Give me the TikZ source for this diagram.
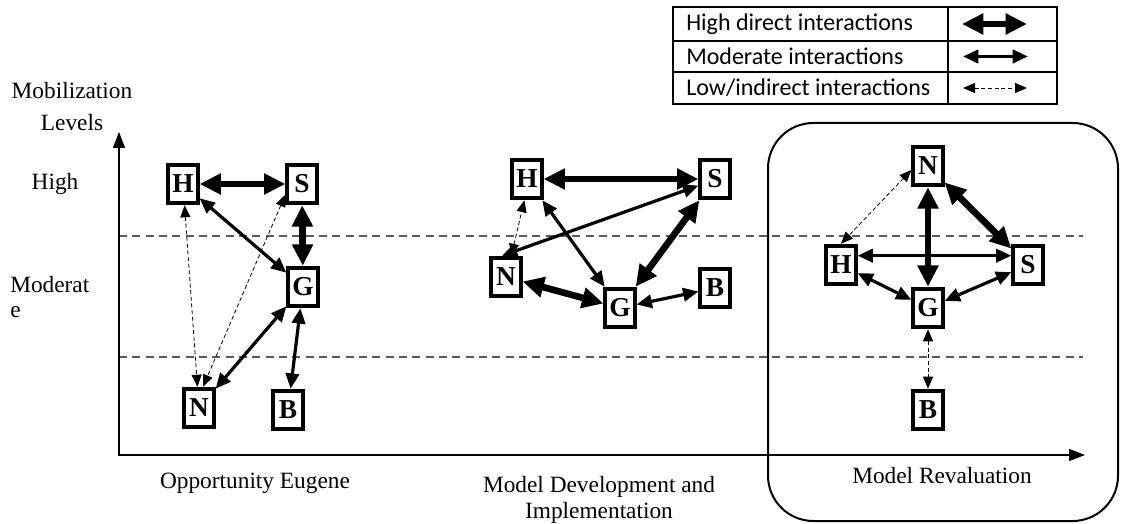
\documentclass[tikz,border=0pt]{standalone}
\usepackage{fontspec}
\setmainfont{Liberation Serif}
\newfontfamily\legendfont{Carlito}
\usetikzlibrary{arrows.meta}

\tikzset{
  actor/.style={draw, fill=white, line width=2.9pt, minimum width=22pt,
    minimum height=29pt, inner sep=0pt,
    font=\fontsize{20.5}{20.5}\selectfont\bfseries},
  high/.style={line width=5pt,
    {Triangle[length=16pt,width=15pt]}-{Triangle[length=16pt,width=15pt]}},
  moderate/.style={line width=2.4pt,
    {Triangle[length=11.5pt,width=10pt]}-{Triangle[length=11.5pt,width=10pt]}},
  low/.style={line width=0.6pt, dash pattern=on 3pt off 2pt,
    {Triangle[length=9pt,width=7.5pt]}-{Triangle[length=9pt,width=7.5pt]}},
  axis/.style={line width=1.1pt,
    {Triangle[length=12pt,width=9pt]}-{Triangle[length=12pt,width=9pt]}},
  level/.style={line width=1.1pt, draw=black!65, dash pattern=on 6pt off 4pt},
  label/.style={font=\fontsize{17.5}{22}\selectfont, inner sep=0pt},
  legendtext/.style={font=\legendfont\fontsize{18}{20}\selectfont,
    anchor=west, inner sep=0pt},
  legendrule/.style={line width=1.2pt}
}

\begin{document}
\begin{tikzpicture}[x=0.75pt,y=-0.75pt]
\useasboundingbox (0,0) rectangle (1121,524);

% mobilization level bands
\coordinate (L1a) at (119,236); \coordinate (L1b) at (1083,236);
\coordinate (L2a) at (119,357); \coordinate (L2b) at (1083,357);
\draw[level] (L1a) -- (L1b);
\draw[level] (L2a) -- (L2b);

% axes
\coordinate (Ytop) at (119,132);
\coordinate (O) at (119,455);
\coordinate (Xend) at (1085,455);
\draw[axis] (Ytop) -- (O) -- (Xend);

% frame around the revaluation phase
\draw[line width=1.5pt, rounded corners=34pt] (768,123) rectangle (1118,521);

% axis labels
\node[label, align=center, font=\fontsize{17.5}{24}\selectfont] (ylab) at (72,107) {Mobilization\\Levels};
\node[label] (lhigh) at (55,184) {High};
\node[label, align=left, anchor=west, font=\fontsize{17.5}{18.5}\selectfont] (lmod) at (10,297) {Moderat\\e};
\node[label] (p1) at (255,483) {Opportunity Eugene};
\node[label, align=center, font=\fontsize{17.5}{20}\selectfont] (p2) at (599,500) {Model Development and\\Implementation};
\node[label] (p3) at (942,476) {Model Revaluation};

% legend table
\draw[legendrule] (673,7) rectangle (1057,104);
\draw[legendrule] (673,41) -- (1057,41);
\draw[legendrule] (673,72) -- (1057,72);
\draw[legendrule] (948,7) -- (948,104);
\node[legendtext] (tH) at (686,24) {High direct interactions};
\node[legendtext] (tM) at (686,56.5) {Moderate interactions};
\node[legendtext] (tL) at (686,88) {Low/indirect interactions};
\coordinate (aH1) at (962,24);   \coordinate (aH2) at (1027,24);
\coordinate (aM1) at (963,56.5); \coordinate (aM2) at (1028,56.5);
\coordinate (aL1) at (963,88);   \coordinate (aL2) at (1027,88);
\draw[high] (aH1) -- (aH2);
\draw[moderate] (aM1) -- (aM2);
\draw[low] (aL1) -- (aL2);

% phase 1: opportunity
\node[actor] (H1) at (183,184) {H};
\node[actor] (S1) at (302,184) {S};
\node[actor] (G1) at (303,287) {G};
\node[actor] (N1) at (199,408) {N};
\node[actor] (B1) at (288,410) {B};
\draw[high] (H1) -- (S1);
\draw[high] (S1) -- (G1);
\draw[moderate] (H1) -- (G1);
\draw[moderate] (G1) -- (N1);
\draw[moderate] (G1) -- (B1);
\draw[low] (H1) -- (N1);
\draw[low] ([yshift=-8pt]S1.west) -- ([xshift=3pt]N1.north);

% phase 2: development and implementation
\node[actor] (H2) at (527,179) {H};
\node[actor] (S2) at (715,179) {S};
\node[actor] (N2) at (506,277) {N};
\node[actor] (G2) at (620,308) {G};
\node[actor] (B2) at (715,288) {B};
\draw[high] (H2) -- (S2);
\draw[high] (S2) -- (G2);
\draw[high] (N2) -- (G2);
\draw[moderate] (H2) -- (G2);
\draw[moderate] ([yshift=-5pt]S2.west) -- ([xshift=-3pt]N2.north);
\draw[moderate] (G2) -- (B2);
\draw[low] ([xshift=4pt]N2.north) -- ([xshift=-2pt]H2.south);

% phase 3: revaluation
\node[actor] (N3) at (928,166) {N};
\node[actor] (H3) at (841,265) {H};
\node[actor] (S3) at (1028,265) {S};
\node[actor] (G3) at (928,308) {G};
\node[actor] (B3) at (928,410) {B};
\draw[moderate] ([yshift=7pt]H3.east) -- ([yshift=7pt]S3.west);
\draw[high] (N3) -- (G3);
\draw[high] (N3) -- (S3);
\draw[moderate] (H3) -- (G3);
\draw[moderate] (S3) -- (G3);
\draw[low] ([yshift=-3pt]N3.west) -- (H3.north);
\draw[low] (G3) -- (B3);
\end{tikzpicture}
\end{document}
